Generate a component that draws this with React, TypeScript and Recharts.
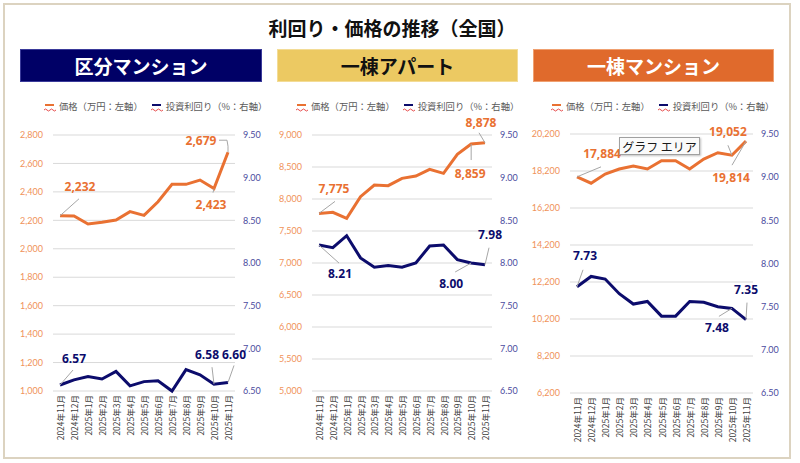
import { CartesianGrid, LabelList, Line, LineChart, XAxis, YAxis } from "recharts";

const months = [
  "2024年11月", "2024年12月", "2025年1月", "2025年2月", "2025年3月", "2025年4月", "2025年5月",
  "2025年6月", "2025年7月", "2025年8月", "2025年9月", "2025年10月", "2025年11月",
];

// 区分マンション
const unitPrice = [2232, 2230, 2174, 2186, 2202, 2261, 2235, 2331, 2453, 2453, 2483, 2423, 2679];
const unitYield = [6.57, 6.63, 6.67, 6.64, 6.73, 6.56, 6.61, 6.62, 6.5, 6.75, 6.69, 6.58, 6.6];
// 一棟アパート
const apartPrice = [7775, 7792, 7698, 8036, 8219, 8208, 8323, 8359, 8464, 8401, 8698, 8859, 8878];
const apartYield = [8.21, 8.18, 8.32, 8.06, 7.95, 7.97, 7.95, 8.0, 8.2, 8.21, 8.04, 8.0, 7.98];
// 一棟マンション
const bldgPrice = [17884, 17540, 18038, 18308, 18470, 18308, 18757, 18757, 18308, 18848, 19190, 19052, 19814];
const bldgYield = [7.73, 7.85, 7.82, 7.65, 7.53, 7.56, 7.39, 7.39, 7.56, 7.55, 7.5, 7.48, 7.35];

const unitTicks = [1000, 1200, 1400, 1600, 1800, 2000, 2200, 2400, 2600, 2800];
const apartTicks = [5000, 5500, 6000, 6500, 7000, 7500, 8000, 8500, 9000];
const bldgTicks = [6200, 8200, 10200, 12200, 14200, 16200, 18200, 20200];
const yieldTicks = [6.5, 7.0, 7.5, 8.0, 8.5, 9.0, 9.5];

const ORANGE = "#E97132";
const NAVY = "#0C0C6C";
const JP = "'Noto Sans CJK JP', 'Noto Sans', sans-serif";
const NUM = "Lato, 'Noto Sans', sans-serif";
const BOLDNUM = "'Open Sans', 'Noto Sans', sans-serif";

type Callout = { i: number; dx: number; dy: number; leader: [number, number][] };

const build = (price: number[], yld: number[]) =>
  months.map((m, i) => ({ month: m, price: price[i], yield: yld[i] }));

const callout =
  (marks: Callout[], color: string, fmt: (v: number) => string) =>
  (props: any) => {
    const { x, y, index, value } = props;
    const m = marks.find((k) => k.i === index);
    if (!m || x == null || y == null) return null;
    const pts = [[0, 0], ...m.leader].map(([a, b]) => `${x + a},${y + b}`).join(" ");
    return (
      <g>
        <polyline points={pts} fill="none" stroke="#A6A6A6" strokeWidth={1} />
        <text
          x={x + m.dx}
          y={y + m.dy}
          textAnchor="middle"
          dominantBaseline="central"
          fill={color}
          fontFamily={BOLDNUM}
          fontWeight={700}
          fontSize={12}
        >
          {fmt(Number(value))}
        </text>
      </g>
    );
  };

const MonthTick = (props: any) => {
  const { x, y, payload } = props;
  return (
    <text
      transform={`translate(${x},${y - 4}) rotate(-90)`}
      textAnchor="end"
      dominantBaseline="central"
      fontSize={8.5}
      fontFamily={JP}
      fill="#404040"
    >
      {payload.value}
    </text>
  );
};

const Legend = ({ left, top }: { left: number; top: number }) => {
  const marker = (color: string) => (
    <svg width={13} height={12} style={{ verticalAlign: "middle", marginRight: 2 }}>
      <line x1={1} y1={5} x2={10} y2={5} stroke={color} strokeWidth={2} />
      <path d="M0,10 q1.5,-2 3,0 t3,0 t3,0 t3,0" fill="none" stroke="#E02020" strokeWidth={0.8} />
    </svg>
  );
  return (
    <div
      style={{
        position: "absolute",
        left,
        top,
        fontFamily: JP,
        fontSize: 9.3,
        color: "#595959",
        whiteSpace: "nowrap",
        lineHeight: "12px",
      }}
    >
      {marker(ORANGE)}
      <span style={{ verticalAlign: "middle" }}>価格（万円：左軸）</span>
      <span style={{ display: "inline-block", width: 8 }} />
      {marker(NAVY)}
      <span style={{ verticalAlign: "middle" }}>投資利回り（%：右軸）</span>
    </div>
  );
};

type PanelProps = {
  left: number;
  width: number;
  data: { month: string; price: number; yield: number }[];
  ticks: number[];
  margin: { top: number; right: number; left: number; bottom: number };
  leftW: number;
  rightW: number;
  xH: number;
  priceMarks: Callout[];
  yieldMarks: Callout[];
};

const Panel = (p: PanelProps) => (
  <div style={{ position: "absolute", left: p.left, top: 100 }}>
    <LineChart width={p.width} height={355} data={p.data} margin={p.margin}>
      <CartesianGrid yAxisId="left" vertical={false} stroke="#D9D9D9" />
      <XAxis
        dataKey="month"
        interval={0}
        height={p.xH}
        tick={<MonthTick />}
        tickLine={false}
        axisLine={false}
        padding={{ left: 7, right: 7 }}
      />
      <YAxis
        yAxisId="left"
        width={p.leftW}
        domain={[p.ticks[0], p.ticks[p.ticks.length - 1]]}
        ticks={p.ticks}
        tickFormatter={(v: number) => v.toLocaleString("en-US")}
        tick={{ fontSize: 9, fill: "#F0925A", fontFamily: NUM }}
        tickLine={false}
        axisLine={false}
        tickMargin={4}
      />
      <YAxis
        yAxisId="right"
        orientation="right"
        width={p.rightW}
        domain={[6.5, 9.5]}
        ticks={yieldTicks}
        tickFormatter={(v: number) => v.toFixed(2)}
        tick={{ fontSize: 9, fill: "#4B4B9E", fontFamily: NUM }}
        tickLine={false}
        axisLine={false}
      />
      <Line
        yAxisId="left"
        dataKey="price"
        stroke={ORANGE}
        strokeWidth={3}
        dot={false}
        isAnimationActive={false}
        strokeLinejoin="miter"
      >
        <LabelList dataKey="price" content={callout(p.priceMarks, ORANGE, (v) => v.toLocaleString("en-US"))} />
      </Line>
      <Line
        yAxisId="right"
        dataKey="yield"
        stroke={NAVY}
        strokeWidth={3}
        dot={false}
        isAnimationActive={false}
        strokeLinejoin="miter"
      >
        <LabelList dataKey="yield" content={callout(p.yieldMarks, NAVY, (v) => v.toFixed(2))} />
      </Line>
    </LineChart>
  </div>
);

const Header = ({ left, width, text, bg, border, color }: any) => (
  <div
    style={{
      position: "absolute",
      left,
      top: 49,
      width,
      height: 33,
      boxSizing: "border-box",
      background: bg,
      border: `1px solid ${border}`,
      color,
      fontFamily: JP,
      fontWeight: 700,
      fontSize: 19,
      display: "flex",
      alignItems: "center",
      justifyContent: "center",
    }}
  >
    {text}
  </div>
);

export default function App() {
  return (
    <div
      style={{
        position: "absolute",
        left: 0,
        top: 0,
        width: 800,
        height: 463,
        background: "#fff",
        overflow: "hidden",
      }}
    >
      <div
        style={{
          position: "absolute",
          left: 3,
          top: 3,
          width: 788,
          height: 456,
          boxSizing: "border-box",
          border: "2px solid #DCD3C0",
        }}
      />
      <div
        style={{
          position: "absolute",
          left: 0,
          width: 784,
          top: 14,
          textAlign: "center",
          fontFamily: JP,
          fontWeight: 700,
          fontSize: 19,
          color: "#111",
        }}
      >
        利回り・価格の推移（全国）
      </div>
      <Header left={20} width={242} text="区分マンション" bg="#000066" border="#3A3A9A" color="#fff" />
      <Header left={277} width={241} text="一棟アパート" bg="#ECC962" border="#F3DC96" color="#111" />
      <Header left={533} width={241} text="一棟マンション" bg="#E06A2C" border="#F0A070" color="#fff" />

      <Legend left={44} top={99} />
      <Legend left={296} top={99} />
      <Legend left={551} top={99} />

      <Panel
        left={0}
        width={270}
        data={build(unitPrice, unitYield)}
        ticks={unitTicks}
        margin={{ top: 35, right: 5, left: 8, bottom: 0 }}
        leftW={45}
        rightW={30}
        xH={64}
        priceMarks={[
          { i: 0, dx: 20, dy: -29, leader: [[19, -17]] },
          { i: 11, dx: -3, dy: 16, leader: [[-1, 4]] },
          { i: 12, dx: -27, dy: -12, leader: [[0, -6], [-1, -12], [-9, -12]] },
        ]}
        yieldMarks={[
          { i: 0, dx: 14, dy: -27, leader: [[13, -15]] },
          { i: 11, dx: -7, dy: -30, leader: [[-2, -17]] },
          { i: 12, dx: 6, dy: -28, leader: [[6, -17]] },
        ]}
      />
      <Panel
        left={270}
        width={260}
        data={build(apartPrice, apartYield)}
        ticks={apartTicks}
        margin={{ top: 35, right: 8, left: 0, bottom: 0 }}
        leftW={42}
        rightW={30}
        xH={64}
        priceMarks={[
          { i: 0, dx: 15, dy: -25, leader: [[16, -12]] },
          { i: 11, dx: -1, dy: 29, leader: [[0, 16]] },
          { i: 12, dx: -4, dy: -20, leader: [[-6, -10]] },
        ]}
        yieldMarks={[
          { i: 0, dx: 21, dy: 28, leader: [[20, 18]] },
          { i: 11, dx: -20, dy: 20, leader: [[-16, 9]] },
          { i: 12, dx: 5, dy: -30, leader: [[4, -17]] },
        ]}
      />
      <Panel
        left={530}
        width={270}
        data={build(bldgPrice, bldgYield)}
        ticks={bldgTicks}
        margin={{ top: 34, right: 12, left: 0, bottom: 0 }}
        leftW={40}
        rightW={35}
        xH={62}
        priceMarks={[
          { i: 0, dx: 25, dy: -23, leader: [[24, -10]] },
          { i: 11, dx: -4, dy: -24, leader: [[-4, -10]] },
          { i: 12, dx: -15, dy: 36, leader: [[-14, 24]] },
        ]}
        yieldMarks={[
          { i: 0, dx: 8, dy: -31, leader: [[6, -17]] },
          { i: 11, dx: -15, dy: 19, leader: [[-13, 8]] },
          { i: 12, dx: 0, dy: -30, leader: [[1, -17]] },
        ]}
      />

      <div
        style={{
          position: "absolute",
          left: 619,
          top: 137,
          width: 81,
          height: 18,
          boxSizing: "border-box",
          background: "#FAFAFA",
          border: "1px solid #A0A0A0",
          boxShadow: "1px 1px 2px rgba(0,0,0,0.25)",
          fontFamily: JP,
          fontSize: 12,
          color: "#1A1A1A",
          display: "flex",
          alignItems: "center",
          justifyContent: "center",
          whiteSpace: "nowrap",
        }}
      >
        グラフ エリア
      </div>
    </div>
  );
}
